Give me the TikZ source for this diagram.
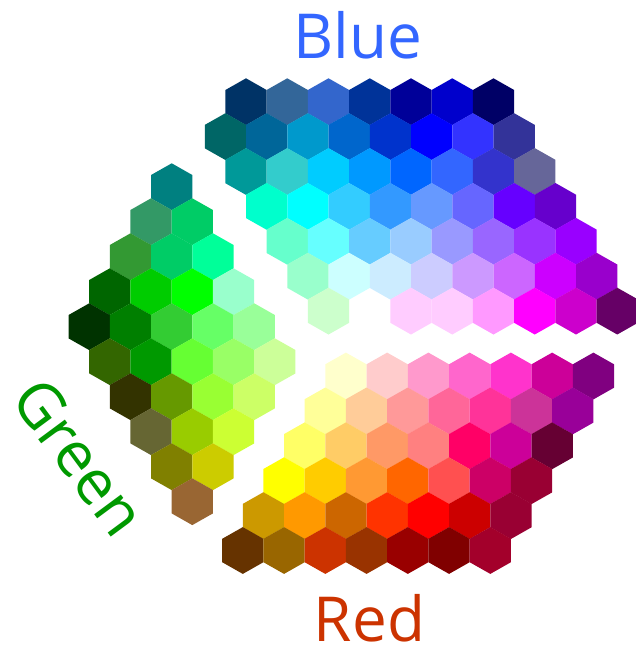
\documentclass[tikz,border=0pt]{standalone}
\usepackage{fontspec}
\setmainfont{Open Sans}
\definecolor{tblue}{HTML}{3366FF}
\definecolor{tgreen}{HTML}{009900}
\definecolor{tred}{HTML}{CC3300}
\newcommand\hxone[3]{\definecolor{hxc}{HTML}{#1}%
  \fill[hxc] ({#2},#3) +(0,-23.4) -- +(20.63,-11.7) -- +(20.63,11.7) -- +(0,23.4) -- +(-20.63,11.7) -- +(-20.63,-11.7) -- cycle;}
% #1 base x, #2 y, #3 first index, #4 colour list
\newcommand\hxrow[4]{\foreach \c [count=\i from #3] in {#4} {\expandafter\hxone\expandafter{\c}{#1+41.25*\i}{#2}}}
\tikzset{lbl/.style={font=\fontsize{62}{62}\selectfont, inner sep=0pt}}
\begin{document}
\begin{tikzpicture}[x=1pt,y=-1pt]
\fill[white] (0,0) rectangle (636,653);
\useasboundingbox (0,0) rectangle (636,653);
% ---------- Blue region ----------
\hxrow{246}{101.7}{0}{003366,336699,3366CC,003399,000099,0000CC,000066}
\hxrow{225.4}{136.6}{0}{006666,006699,0099CC,0066CC,0033CC,0000FF,3333FF,333399}
\hxrow{246}{171.5}{0}{009999,33CCCC,00CCFF,0099FF,0066FF,3366FF,3333CC,666699}
\hxrow{225.4}{206.4}{1}{00FFCC,00FFFF,33CCFF,3399FF,6699FF,6666FF,6600FF,6600CC}
\hxrow{246}{241.3}{1}{66FFCC,66FFFF,66CCFF,99CCFF,9999FF,9966FF,9933FF,9900FF}
\hxrow{225.4}{276.2}{2}{99FFCC,CCFFFF,CCECFF,CCCCFF,CC99FF,CC66FF,CC00FF,9900CC}
\hxrow{246}{311.1}{2}{CCFFCC}
\hxrow{246}{311.1}{4}{FFCCFF,FFCCFF,FF99FF,FF00FF,CC00CC,660066}
% ---------- Green region ----------
\hxrow{171.7}{186.7}{0}{008080}
\hxrow{151.05}{221.7}{0}{339966,00CC66}
\hxrow{171.7}{256.7}{-1}{339933,00CC66,00FF99}
\hxrow{151.05}{291.7}{-1}{006600,00CC00,00FF00,99FFCC}
\hxrow{171.7}{326.7}{-2}{003300,007F00,33CC33,66FF66,99FF99}
\hxrow{151.05}{361.7}{-1}{336600,009900,66FF33,99FF66,CCFF99}
\hxrow{171.7}{396.7}{-1}{333300,669900,99FF33,CCFF66}
\hxrow{151.05}{431.7}{0}{666633,99CC00,CCFF33}
\hxrow{171.7}{466.7}{0}{808000,CCCC00}
\hxrow{151.05}{501.7}{1}{996633}
% ---------- Red region ----------
\hxrow{345.9}{376}{0}{FFFFCC,FFCCCC,FF99CC,FF66CC,FF33CC,CC0099,800080}
\hxrow{325.3}{410.9}{0}{FFFF99,FFCC99,FF9999,FF6699,FF3399,CC3399,990099}
\hxrow{304.65}{445.8}{0}{FFFF66,FFCC66,FF9966,FF8080,FF0066,CC0099,660033}
\hxrow{284.0}{480.7}{0}{FFFF00,FFCC00,FF9933,FF6600,FF5050,CC0066,990033}
\hxrow{263.4}{515.6}{0}{CC9900,FF9900,CC6600,FF3300,FF0000,CC0000,990033}
\hxrow{242.8}{550.5}{0}{663300,996600,CC3300,993300,990000,800000,A3002B}
% ---------- Labels ----------
\node[lbl, text=tblue, anchor=base] (blue) at (357.5,58.3) {Blue};
\node[lbl, text=tred, anchor=base] (red) at (369.5,641.7) {Red};
\node[lbl, text=tgreen, anchor=center, rotate=-53.5] (green) at (79.5,457) {Green};
\end{tikzpicture}
\end{document}
